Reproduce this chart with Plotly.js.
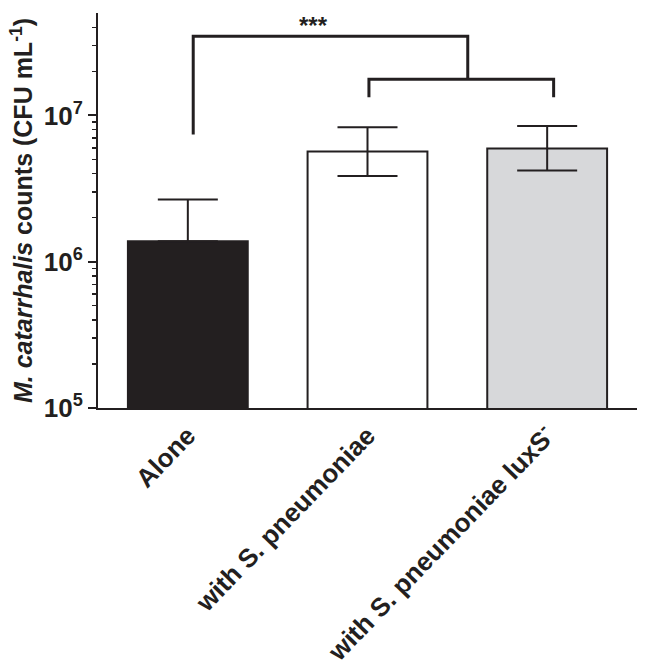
<!DOCTYPE html>
<html>
<head>
<meta charset="utf-8">
<script src="https://cdn.plot.ly/plotly-3.0.1.min.js"></script>
<style>html,body{margin:0;padding:0;background:#fff;}#chart{width:645px;height:670px;}</style>
</head>
<body>
<div id="chart"></div>
<script>
// Categories and values (CFU/mL)
const categories = ["Alone", "with S. pneumoniae", "with S. pneumoniae luxS<sup>-</sup>"];
const positions = [0, 1, 2];
const means = [1.38e6, 5.67e6, 5.94e6];
const errPlus = [1.28e6, 2.64e6, 2.51e6];
const errMinus = [0, 1.81e6, 1.74e6];
const barColors = ["#231f20", "#ffffff", "#d7d8da"];

// Axis ticks
const majorTicks = [1e5, 1e6, 1e7];
const majorTickText = ["10<sup>5</sup>", "10<sup>6</sup>", "10<sup>7</sup>"];
const minorTicks = [2e5, 3e5, 4e5, 5e5, 6e5, 7e5, 8e5, 9e5,
                    2e6, 3e6, 4e6, 5e6, 6e6, 7e6, 8e6, 9e6,
                    2e7, 3e7, 4e7];

// Significance brackets (x in category units, y in CFU/mL)
const bracket1X = [0.03, 0.03, 1.558, 1.558];
const bracket1Y = [7.41e6, 3.48e7, 3.48e7, 1.77e7];
const bracket2X = [1.008, 1.008, 2.036, 2.036];
const bracket2Y = [1.33e7, 1.77e7, 1.77e7, 1.33e7];
const sigLabel = "***";
const sigX = 0.7;
const sigY = 4.1e7;

const ink = "#231f20";
const font = "Liberation Sans, Arial, Helvetica, sans-serif";

const traces = [
  {
    type: "bar",
    x: positions,
    y: means,
    width: 0.667,
    marker: {color: barColors, line: {color: ink, width: 2}},
    error_y: {type: "data", symmetric: false, array: errPlus, arrayminus: errMinus,
              color: ink, thickness: 2, width: 30},
    hoverinfo: "skip"
  },
  {
    type: "scatter", mode: "lines", x: bracket1X, y: bracket1Y,
    line: {color: ink, width: 3}, hoverinfo: "skip"
  },
  {
    type: "scatter", mode: "lines", x: bracket2X, y: bracket2Y,
    line: {color: ink, width: 3}, hoverinfo: "skip"
  }
];

const layout = {
  width: 645, height: 670,
  margin: {l: 97.5, r: 7.5, t: 13, b: 262},
  paper_bgcolor: "#fff", plot_bgcolor: "#fff",
  showlegend: false,
  hovermode: false,
  font: {family: font, color: ink},
  xaxis: {
    type: "linear",
    range: [-0.5, 2.5],
    tickvals: positions,
    ticktext: categories,
    tickangle: -46,
    ticks: "",
    tickfont: {size: 26, weight: "bold", color: ink, family: font},
    showline: true, linecolor: ink, linewidth: 2,
    showgrid: false, zeroline: false
  },
  yaxis: {
    type: "log",
    range: [5, 7.7],
    tickmode: "array",
    tickvals: majorTicks,
    ticktext: majorTickText,
    ticks: "outside", ticklen: 8, tickwidth: 2, tickcolor: ink,
    minor: {tickmode: "array", tickvals: minorTicks, ticks: "outside", ticklen: 4,
            tickwidth: 1.5, tickcolor: ink, showgrid: false},
    tickfont: {size: 26, weight: "bold", color: ink, family: font},
    showline: true, linecolor: ink, linewidth: 2,
    showgrid: false, zeroline: false,
    title: {text: "<i>M. catarrhalis</i> counts (CFU mL<sup>-1</sup>)",
            font: {size: 25, weight: "bold", color: ink, family: font}, standoff: 4}
  },
  annotations: [
    {x: sigX, y: Math.log10(sigY), xref: "x", yref: "y", text: sigLabel, showarrow: false,
     font: {size: 24, weight: "bold", color: ink, family: font}}
  ]
};

Plotly.newPlot("chart", traces, layout, {displayModeBar: false, staticPlot: true});
</script>
</body>
</html>
